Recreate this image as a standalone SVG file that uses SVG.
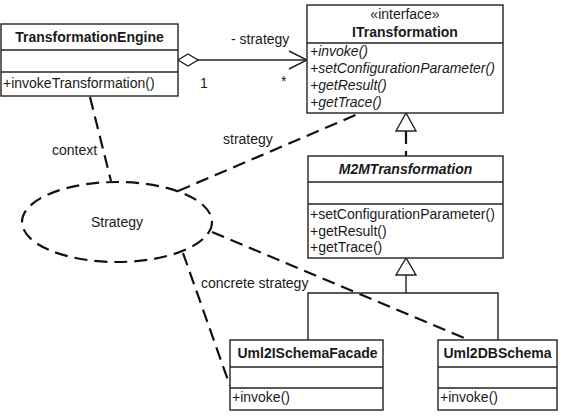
<svg xmlns="http://www.w3.org/2000/svg" width="563" height="420" viewBox="0 0 563 420">
<style>
text{font-family:"Liberation Sans",Arial,sans-serif;font-size:14px;fill:#1a1a1a}
.b{font-weight:bold}
.i{font-style:italic}
.c{text-anchor:middle}
.box{fill:#fff;stroke:#222;stroke-width:1.4}
.ln{fill:none;stroke:#222;stroke-width:1.4}
.dash{fill:none;stroke:#111;stroke-width:2.2;stroke-dasharray:13 7}
.tri{fill:#fff;stroke:#222;stroke-width:1.4}
</style>
<rect width="563" height="420" fill="#fff"/>
<g id="connectors">
<line class="dash" x1="90" y1="97" x2="111" y2="181"/>
<line class="dash" x1="178" y1="191" x2="358" y2="114"/>
<line class="dash" x1="183" y1="253" x2="230" y2="386"/>
<line class="dash" x1="212" y1="232" x2="469" y2="340"/>
<polyline class="ln" points="198,60 307,60"/>
<polyline class="ln" points="289,51 307,60 289,69"/>
<polygon class="tri" points="178,60 188,54 198,60 188,66"/>
<line class="dash" x1="406" y1="131" x2="406" y2="156" stroke-dasharray="9 5"/>
<polygon class="tri" points="406,113 396,131 416,131"/>
<polyline class="ln" points="406,275 406,293"/>
<polyline class="ln" points="308,340 308,293 498,293 498,340"/>
<polygon class="tri" points="406,258 396,275 416,275"/>
<text x="231" y="44">- strategy</text>
<text x="200" y="88">1</text>
<text x="281" y="86">*</text>
<text x="223" y="144">strategy</text>
<text x="52" y="155">context</text>
<text x="201" y="288">concrete strategy</text>
</g>
<g id="TransformationEngine">
<rect class="box" x="1" y="24" width="177" height="72"/>
<line class="ln" x1="1" y1="50" x2="178" y2="50"/>
<line class="ln" x1="1" y1="72" x2="178" y2="72"/>
<text class="b c" x="89.5" y="42">TransformationEngine</text>
<text x="3" y="88">+invokeTransformation()</text>
</g>
<g id="ITransformation">
<rect class="box" x="307" y="5" width="196" height="108"/>
<line class="ln" x1="307" y1="43" x2="503" y2="43"/>
<text class="c" x="405" y="19">«interface»</text>
<text class="b c" x="405" y="37">ITransformation</text>
<text class="i" x="310" y="56">+invoke()</text>
<text class="i" x="310" y="73">+setConfigurationParameter()</text>
<text class="i" x="310" y="90">+getResult()</text>
<text class="i" x="310" y="107">+getTrace()</text>
</g>
<g id="M2MTransformation">
<rect class="box" x="308" y="156" width="195" height="102"/>
<line class="ln" x1="308" y1="182" x2="503" y2="182"/>
<line class="ln" x1="308" y1="204" x2="503" y2="204"/>
<text class="b i c" x="405.5" y="174">M2MTransformation</text>
<text x="310" y="219">+setConfigurationParameter()</text>
<text x="310" y="236">+getResult()</text>
<text x="310" y="252">+getTrace()</text>
</g>
<g id="Strategy">
<ellipse class="dash" cx="117" cy="222" rx="95" ry="40"/>
<text class="c" x="117" y="227">Strategy</text>
</g>
<g id="Uml2ISchemaFacade">
<rect class="box" x="230" y="340" width="153" height="70"/>
<line class="ln" x1="230" y1="367" x2="383" y2="367"/>
<line class="ln" x1="230" y1="388" x2="383" y2="388"/>
<text class="b c" x="307.5" y="358">Uml2ISchemaFacade</text>
<text x="232" y="402">+invoke()</text>
</g>
<g id="Uml2DBSchema">
<rect class="box" x="438" y="340" width="119" height="70"/>
<line class="ln" x1="438" y1="367" x2="557" y2="367"/>
<line class="ln" x1="438" y1="388" x2="557" y2="388"/>
<text class="b c" x="497.5" y="358">Uml2DBSchema</text>
<text x="440" y="402">+invoke()</text>
</g>
</svg>
